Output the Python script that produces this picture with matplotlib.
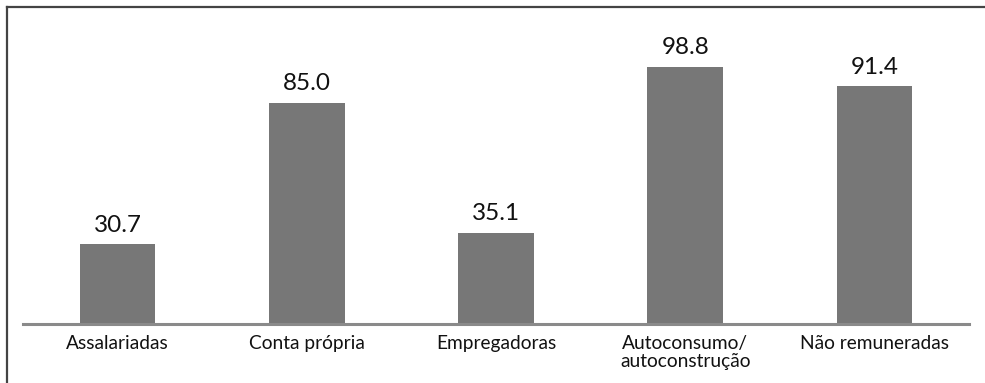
import matplotlib
matplotlib.use("Agg")
import matplotlib.pyplot as plt
from matplotlib.lines import Line2D

categories = ["Assalariadas", "Conta própria", "Empregadoras",
              "Autoconsumo/\nautoconstrução", "Não remuneradas"]
values = [30.7, 85.0, 35.1, 98.8, 91.4]

plt.rcParams["font.family"] = ["Lato", "DejaVu Sans"]

W, H = 985, 383
fig = plt.figure(figsize=(W / 100, H / 100), dpi=100)

# plot area in pixel terms: baseline at y=324, x from 23 to 969
left, right, bottom, top = 23, 969, 324, 14
ax = fig.add_axes([left / W, 1 - bottom / H, (right - left) / W, (bottom - top) / H])

x = range(len(categories))
ax.bar(x, values, width=0.40, color="#777777", zorder=2)
ax.set_xlim(-0.5, len(categories) - 0.5)
ax.set_ylim(0, 119)

for xi, v in zip(x, values):
    ax.annotate(f"{v:.1f}", (xi, v), xytext=(0, 6), textcoords="offset points",
                ha="center", va="bottom", fontsize=17.5, color="#111111")

ax.set_xticks(list(x))
ax.set_xticklabels(categories, fontsize=13.8, color="#111111", linespacing=1.05)
ax.tick_params(axis="x", length=0, pad=8)
ax.set_yticks([])
for s in ["top", "right", "left"]:
    ax.spines[s].set_visible(False)
ax.spines["bottom"].set_color("#8a8a8a")
ax.spines["bottom"].set_linewidth(2.2)
ax.spines["bottom"].set_zorder(3)

# outer frame (top and left edges)
fig.add_artist(Line2D([6.5 / W, 1], [1 - 6.5 / H, 1 - 6.5 / H], color="#444444", lw=1.6))
fig.add_artist(Line2D([6.5 / W, 6.5 / W], [0, 1 - 6.5 / H], color="#444444", lw=1.6))

fig.savefig("out.png", dpi=100)
